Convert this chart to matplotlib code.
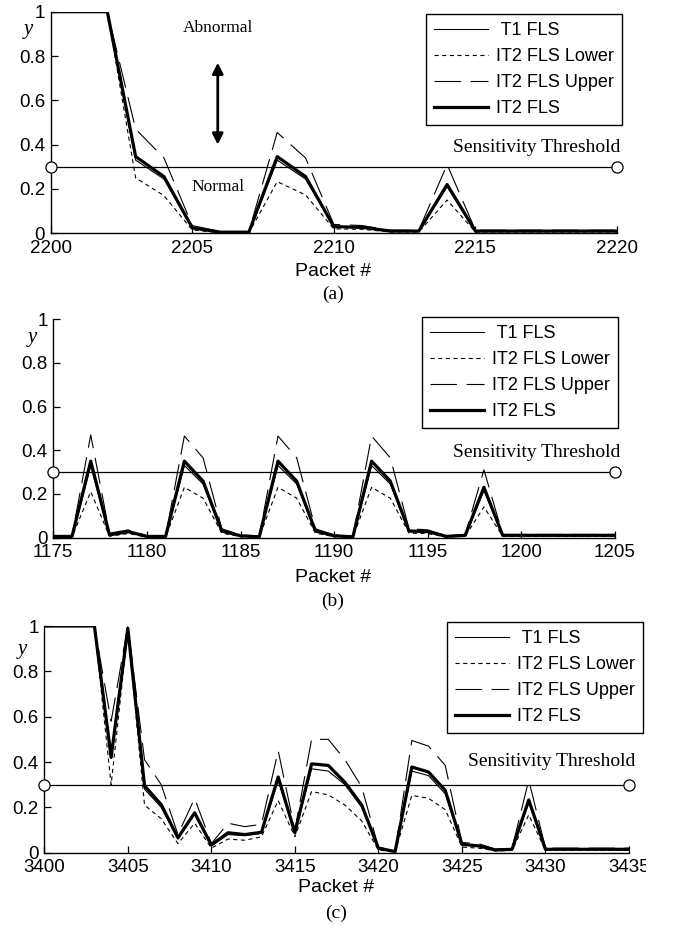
import matplotlib
matplotlib.use("Agg")
import matplotlib.pyplot as plt
from matplotlib.ticker import FuncFormatter, MultipleLocator
from matplotlib.transforms import Bbox, TransformedBbox

plt.rcParams['lines.scale_dashes'] = False

# ---------------- data ----------------
x_a = list(range(2200, 2221))
t1_a = [1, 1, 1, 0.33, 0.245, 0.022, 0.004, 0.004, 0.33, 0.245, 0.028, 0.024, 0.009, 0.009, 0.21,
        0.009, 0.009, 0.009, 0.009, 0.009, 0.009]
lower_a = [1, 1, 1, 0.25, 0.17, 0.015, 0.002, 0.002, 0.233, 0.173, 0.02, 0.018, 0.006, 0.006, 0.15,
           0.006, 0.006, 0.006, 0.006, 0.006, 0.006]
upper_a = [1, 1, 1, 0.47, 0.34, 0.035, 0.008, 0.008, 0.455, 0.34, 0.04, 0.035, 0.014, 0.014, 0.31,
           0.014, 0.014, 0.014, 0.014, 0.014, 0.014]
it2_a = [1, 1, 1, 0.346, 0.256, 0.025, 0.005, 0.005, 0.346, 0.256, 0.03, 0.027, 0.01, 0.01, 0.22,
         0.01, 0.01, 0.01, 0.01, 0.01, 0.01]

x_b = list(range(1175, 1206))
it2_b = [0.005, 0.005, 0.35, 0.012, 0.027, 0.005, 0.005, 0.35, 0.258, 0.03, 0.008, 0.003, 0.35, 0.258,
         0.03, 0.008, 0.003, 0.35, 0.258, 0.03, 0.027, 0.005, 0.01, 0.23, 0.01,
         0.01, 0.01, 0.01, 0.01, 0.01, 0.01]
t1_b = [0.004, 0.004, 0.33, 0.01, 0.024, 0.004, 0.004, 0.33, 0.245, 0.027, 0.007, 0.002, 0.33, 0.245,
        0.027, 0.007, 0.002, 0.33, 0.245, 0.027, 0.024, 0.004, 0.009, 0.215, 0.009,
        0.009, 0.009, 0.009, 0.009, 0.009, 0.009]
lower_b = [0.002, 0.002, 0.21, 0.006, 0.018, 0.002, 0.002, 0.23, 0.18, 0.02, 0.004, 0.001, 0.23, 0.18,
           0.02, 0.004, 0.001, 0.23, 0.18, 0.02, 0.018, 0.002, 0.006, 0.14, 0.006,
           0.006, 0.006, 0.006, 0.006, 0.006, 0.006]
upper_b = [0.008, 0.008, 0.47, 0.02, 0.035, 0.008, 0.008, 0.465, 0.365, 0.04, 0.012, 0.006, 0.465, 0.365,
           0.04, 0.012, 0.006, 0.465, 0.365, 0.04, 0.035, 0.008, 0.014, 0.31, 0.014,
           0.014, 0.014, 0.014, 0.014, 0.014, 0.014]

x_c = list(range(3400, 3436))
it2_c = [1, 1, 1, 1, 0.42, 0.99, 0.295, 0.212, 0.066, 0.176, 0.034, 0.088, 0.08, 0.09, 0.334, 0.088,
         0.392, 0.385, 0.31, 0.21, 0.02, 0.005, 0.378, 0.356, 0.275, 0.037, 0.03, 0.012, 0.015, 0.233,
         0.015, 0.015, 0.015, 0.015, 0.015, 0.015]
t1_c = [1, 1, 1, 1, 0.44, 0.99, 0.28, 0.2, 0.06, 0.17, 0.03, 0.08, 0.075, 0.085, 0.32, 0.085,
        0.37, 0.36, 0.3, 0.2, 0.018, 0.004, 0.36, 0.34, 0.26, 0.035, 0.028, 0.011, 0.014, 0.22,
        0.014, 0.014, 0.014, 0.014, 0.014, 0.014]
lower_c = [1, 1, 1, 1, 0.3, 0.98, 0.21, 0.15, 0.04, 0.13, 0.02, 0.06, 0.055, 0.07, 0.23, 0.07,
           0.27, 0.255, 0.21, 0.14, 0.012, 0.003, 0.253, 0.24, 0.19, 0.025, 0.02, 0.008, 0.01, 0.167,
           0.01, 0.01, 0.01, 0.01, 0.01, 0.01]
upper_c = [1, 1, 1, 1, 0.58, 1, 0.41, 0.3, 0.08, 0.24, 0.04, 0.13, 0.115, 0.125, 0.45, 0.1,
           0.5, 0.5, 0.41, 0.29, 0.025, 0.008, 0.495, 0.47, 0.385, 0.045, 0.04, 0.016, 0.02, 0.32,
           0.02, 0.02, 0.02, 0.02, 0.02, 0.02]

threshold = 0.3
labels = [" T1 FLS", "IT2 FLS Lower", "IT2 FLS Upper", "IT2 FLS"]
panel_tags = ["(a)", "(b)", "(c)"]

# ---------------- figure ----------------
W, H = 675, 930
fig = plt.figure(figsize=(W / 100, H / 100), dpi=100)

def fbox(l, r, top, bot):
    return [l / W, 1 - bot / H, (r - l) / W, (bot - top) / H]

panels = [
    dict(x=x_a, t1=t1_a, lo=lower_a, up=upper_a, it2=it2_a, box=fbox(50.7, 617, 11.7, 233.3),
         leg=(622, 14), st_off=(3, 19), ylab_off=(-22, -18), xl_y=272, tag_y=294, xc=333),
    dict(x=x_b, t1=t1_b, lo=lower_b, up=upper_b, it2=it2_b, box=fbox(53.3, 615, 319.3, 537.5),
         leg=(618, 317), st_off=(5, 20), ylab_off=(-21, -18), xl_y=577, tag_y=601, xc=333),
    dict(x=x_c, t1=t1_c, lo=lower_c, up=upper_c, it2=it2_c, box=fbox(44.3, 629, 626, 852.7),
         leg=(643, 622), st_off=(6, 23), ylab_off=(-22, -23), xl_y=887, tag_y=913, xc=336),
]

sans = "Liberation Sans"
serif = "Liberation Serif"

for i, p in enumerate(panels):
    ax = fig.add_axes(p["box"])
    x = p["x"]
    l1, = ax.plot(x, p["t1"], color="k", lw=0.8)
    l2, = ax.plot(x, p["lo"], color="k", lw=0.8, linestyle=(0, (3, 2.5)))
    l3, = ax.plot(x, p["up"], color="k", lw=0.8, linestyle=(0, (19, 7)))
    l4, = ax.plot(x, p["it2"], color="k", lw=2.3)
    ax.plot([x[0], x[-1]], [threshold, threshold], color="k", lw=0.9, marker="o",
            mfc="white", mec="k", ms=8, mew=0.9, clip_on=False, zorder=5)

    ax.set_xlim(x[0], x[-1])
    ax.set_ylim(0, 1)
    ax.xaxis.set_major_locator(MultipleLocator(5))
    ax.yaxis.set_major_locator(MultipleLocator(0.2))
    ax.yaxis.set_major_formatter(FuncFormatter(lambda v, pos: "0" if abs(v) < 1e-9 else ("1" if abs(v - 1) < 1e-9 else f"{v:.1f}")))
    for s in ["top", "right"]:
        ax.spines[s].set_visible(False)
    for s in ["left", "bottom"]:
        ax.spines[s].set_linewidth(1.0)
    ax.tick_params(direction="in", length=5, width=0.9, pad=4, labelsize=13.5)
    ax.tick_params(axis="x", pad=4.8)
    for lab in ax.get_xticklabels() + ax.get_yticklabels():
        lab.set_fontfamily(sans)

    # y label
    ax.annotate("y", xy=(0, 1), xycoords="axes fraction", xytext=p["ylab_off"],
                textcoords="offset pixels", ha="center", va="center",
                fontsize=15, fontstyle="italic", family=serif)

    # threshold text
    ax.annotate("Sensitivity Threshold", xy=(x[-1], threshold), xycoords="data",
                xytext=p["st_off"], textcoords="offset pixels", ha="right", va="center",
                fontsize=14, family=serif)

    # legend
    lx, ly = p["leg"]
    leg = ax.legend([l1, l2, l3, l4], labels, loc="upper right",
                    bbox_to_anchor=(lx / W, 1 - ly / H), bbox_transform=fig.transFigure,
                    borderaxespad=0, fancybox=False, framealpha=1, edgecolor="k",
                    prop={"family": sans, "size": 13}, handlelength=3.0,
                    handletextpad=0.45, borderpad=0.45, labelspacing=0.5)
    leg.get_frame().set_linewidth(1.0)

    fig.text(p["xc"] / W, 1 - p["xl_y"] / H, "Packet #", ha="center", va="center",
             fontsize=14, family=sans)
    fig.text(p["xc"] / W, 1 - p["tag_y"] / H, panel_tags[i], ha="center", va="center",
             fontsize=14, family=serif)

    if i == 0:
        ax.text(2205.9, 0.925, "Abnormal", ha="center", va="center", fontsize=12.5, family=serif)
        ax.text(2205.9, 0.21, "Normal", ha="center", va="center", fontsize=12.5, family=serif)
        ax.annotate("", xy=(2205.9, 0.77), xytext=(2205.9, 0.40),
                    arrowprops=dict(arrowstyle="<|-|>", color="k", lw=2, mutation_scale=16,
                                    shrinkA=0, shrinkB=0))
    if i == 2:
        fig.canvas.draw()
        clip = TransformedBbox(Bbox([[0, 0], [646 / W, 1]]), fig.transFigure)
        for lab in ax.get_xticklabels():
            lab.set_clip_box(clip)
            lab.set_clip_on(True)

fig.savefig("out.png", dpi=100)
